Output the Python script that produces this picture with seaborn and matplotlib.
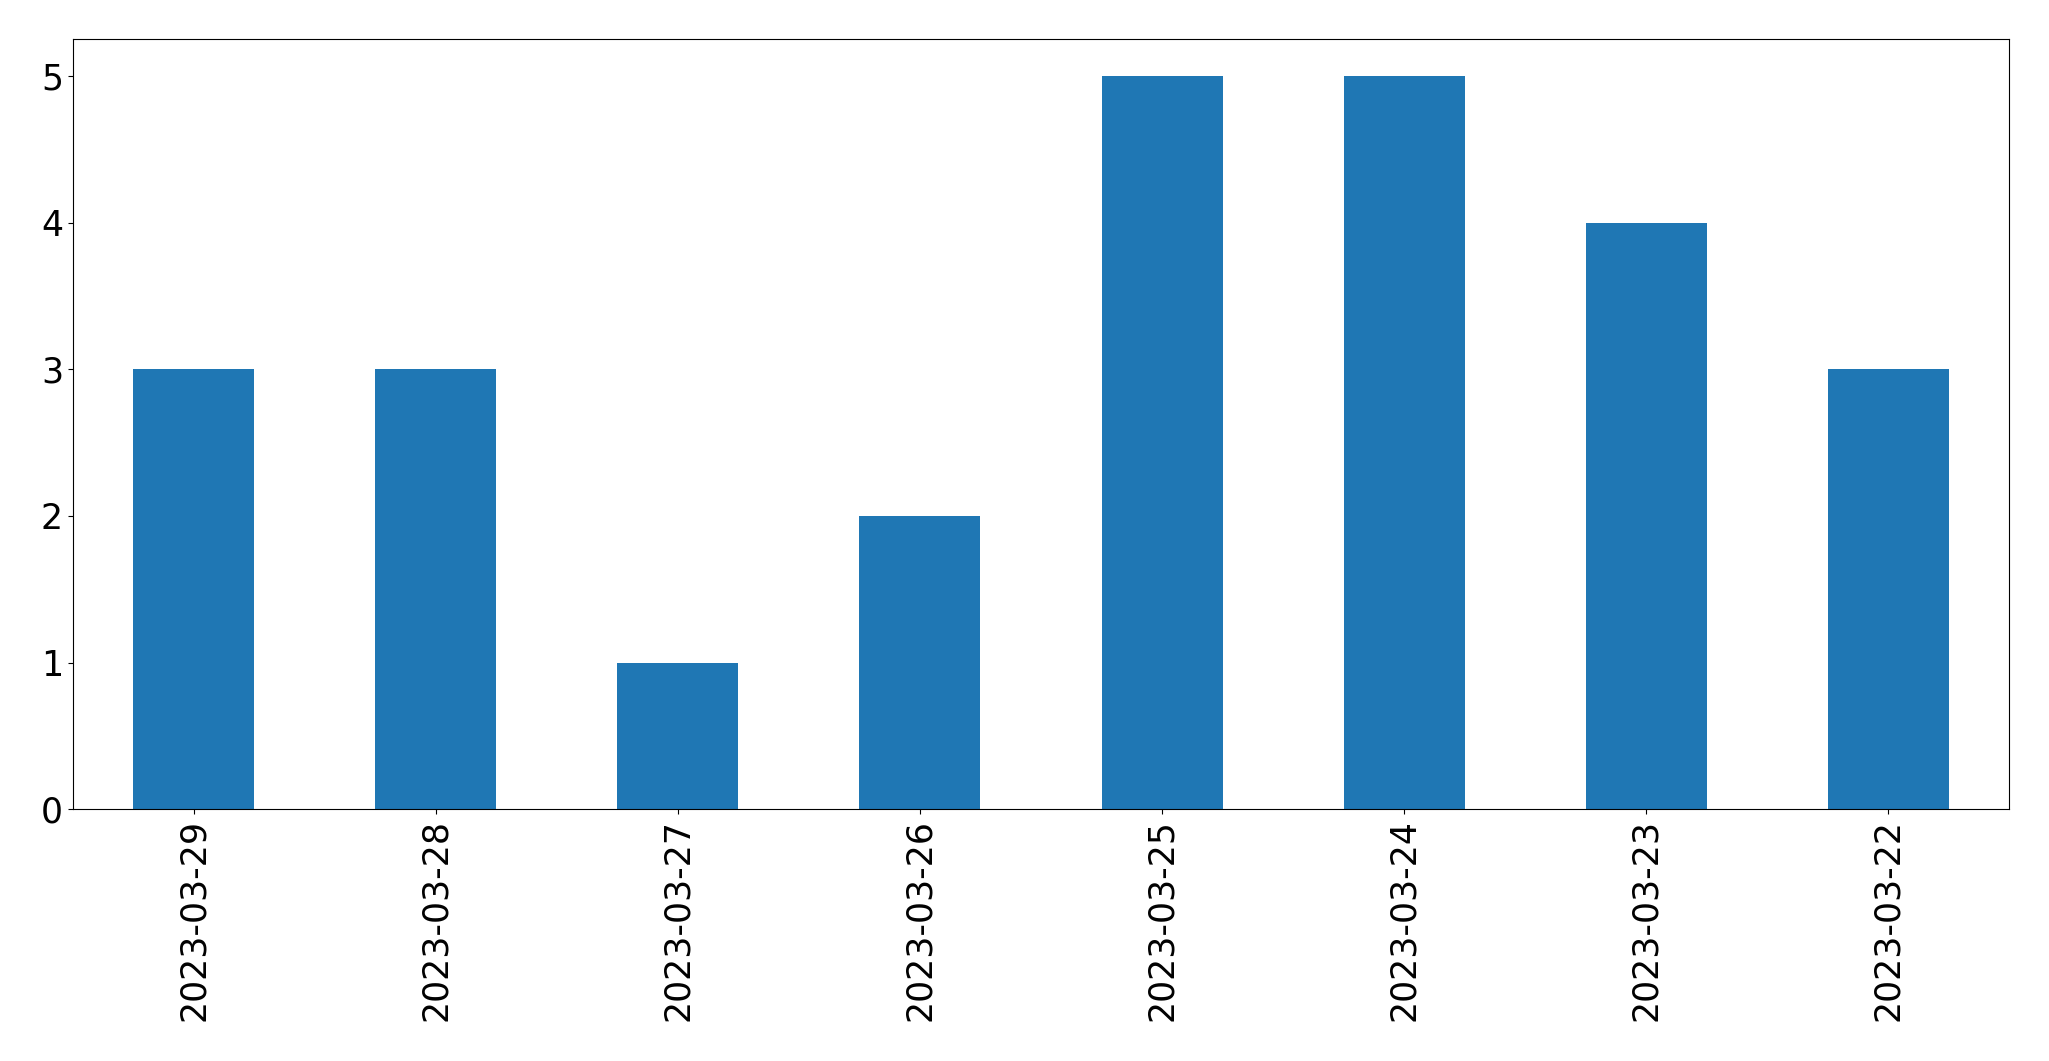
import matplotlib
matplotlib.use("Agg")
import matplotlib.pyplot as plt
import seaborn as sns
import pandas as pd

dates = ["2023-03-29", "2023-03-28", "2023-03-27", "2023-03-26",
         "2023-03-25", "2023-03-24", "2023-03-23", "2023-03-22"]
counts = [3, 3, 1, 2, 5, 5, 4, 3]

df = pd.DataFrame({"date": dates, "count": counts})

fig = plt.figure(figsize=(20.49, 10.61), dpi=100)
ax = fig.add_axes([0.0355, 0.2372, 0.9451, 0.7258])

sns.barplot(data=df, x="date", y="count", order=dates, color="#1f77b4",
            saturation=1, width=0.5, ax=ax, errorbar=None)

ax.set_xlim(-0.5, len(dates) - 0.5)
ax.set_ylim(0, 5.25)
ax.set_xlabel("")
ax.set_ylabel("")
ax.tick_params(axis="both", labelsize=25)
plt.setp(ax.get_xticklabels(), rotation=90)
for s in ax.spines.values():
    s.set_color("black")
    s.set_linewidth(0.8)

fig.savefig("out.png", dpi=100)
